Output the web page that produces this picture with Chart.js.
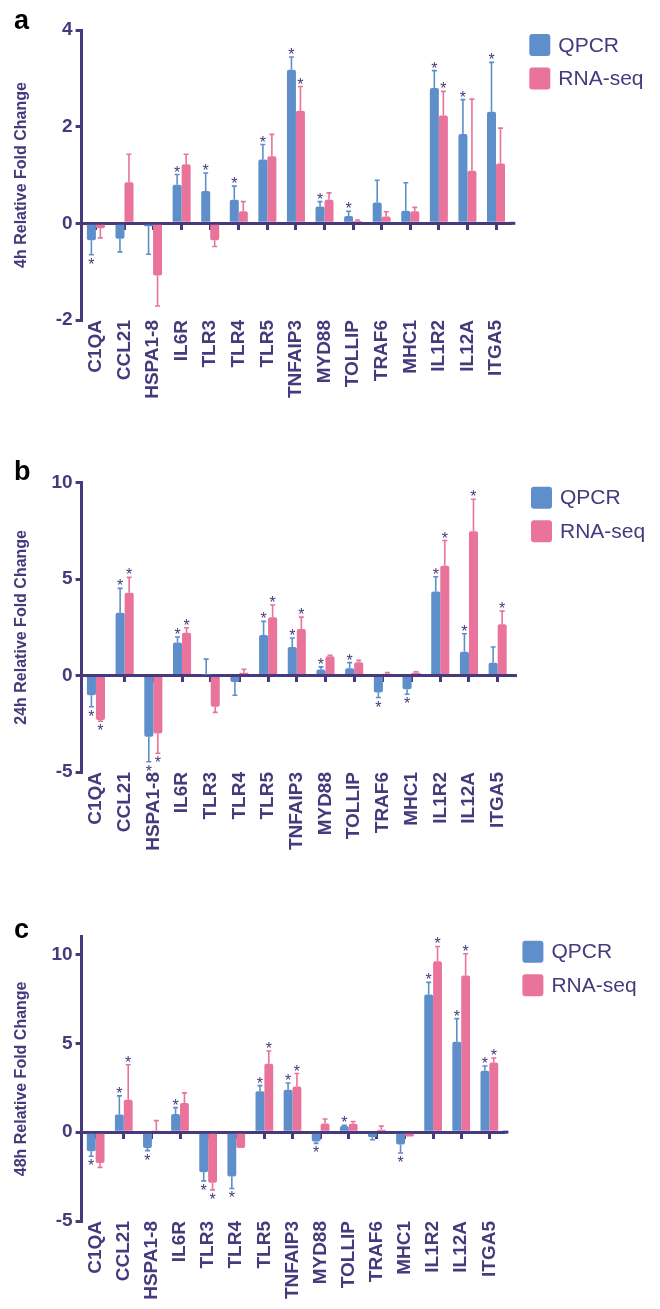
<!DOCTYPE html>
<html>
<head>
<meta charset="utf-8">
<script src="https://cdn.jsdelivr.net/npm/chart.js@4.4.0/dist/chart.umd.min.js"></script>
<style>
  body { margin: 0; background: #fff; }
  #page { position: relative; width: 660px; height: 1309px; overflow: hidden; background: #fff; }
  canvas { position: absolute; left: 0; }
</style>
</head>
<body>
<div id="page">
  <canvas id="chartA" width="660" height="420" style="top:0px"></canvas>
  <canvas id="chartB" width="660" height="450" style="top:430px"></canvas>
  <canvas id="chartC" width="660" height="429" style="top:880px"></canvas>
</div>
<script>
"use strict";

// genes on the x axis
const genes = ['C1QA', 'CCL21', 'HSPA1-8', 'IL6R', 'TLR3', 'TLR4', 'TLR5', 'TNFAIP3',
               'MYD88', 'TOLLIP', 'TRAF6', 'MHC1', 'IL1R2', 'IL12A', 'ITGA5'];
const seriesNames = ['QPCR', 'RNA-seq'];

// 4h
const qpcr4h    = [-0.35, -0.32, -0.06, 0.80, 0.67, 0.49, 1.32, 3.18, 0.35, 0.15, 0.43, 0.26, 2.80, 1.85, 2.31];
const qpcr4hErr = [0.30, 0.27, 0.58, 0.21, 0.37, 0.28, 0.31, 0.26, 0.10, 0.10, 0.46, 0.58, 0.36, 0.71, 1.02];
const qpcr4hSig = [1, 0, 0, 1, 1, 1, 1, 1, 1, 1, 0, 0, 1, 1, 1];
const rna4h     = [-0.10, 0.85, -1.08, 1.22, -0.35, 0.25, 1.39, 2.33, 0.49, 0.05, 0.14, 0.25, 2.23, 1.09, 1.24];
const rna4hErr  = [0.20, 0.58, 0.63, 0.21, 0.13, 0.20, 0.45, 0.50, 0.14, 0.02, 0.10, 0.08, 0.50, 1.48, 0.73];
const rna4hSig  = [0, 0, 0, 0, 0, 0, 0, 1, 0, 0, 0, 0, 1, 0, 0];
const ticks4h   = [-2, 0, 2, 4];

// 24h
const qpcr24h    = [-1.02, 3.26, -3.17, 1.72, 0.05, -0.34, 2.10, 1.48, 0.31, 0.38, -0.88, -0.71, 4.36, 1.24, 0.67];
const qpcr24hErr = [0.60, 1.26, 1.30, 0.28, 0.80, 0.68, 0.71, 0.47, 0.14, 0.29, 0.26, 0.26, 0.76, 0.93, 0.81];
const qpcr24hSig = [1, 1, 1, 1, 0, 0, 1, 1, 1, 1, 1, 1, 1, 1, 0];
const rna24h     = [-2.31, 4.29, -3.00, 2.22, -1.62, 0.15, 3.02, 2.41, 1.00, 0.69, 0.10, 0.15, 5.69, 7.48, 2.66];
const rna24hErr  = [0.06, 0.80, 1.03, 0.26, 0.29, 0.18, 0.64, 0.62, 0.05, 0.10, 0.05, 0.05, 1.31, 1.66, 0.68];
const rna24hSig  = [1, 1, 1, 1, 0, 0, 1, 1, 0, 0, 0, 0, 1, 1, 1];
const ticks24h   = [-5, 0, 5, 10];

// 48h
const qpcr48h    = [-1.08, 1.00, -0.89, 1.02, -2.26, -2.49, 2.30, 2.38, -0.53, 0.34, -0.28, -0.70, 7.75, 5.09, 3.45];
const qpcr48hErr = [0.28, 1.04, 0.15, 0.36, 0.48, 0.68, 0.32, 0.39, 0.10, 0.05, 0.15, 0.47, 0.68, 1.30, 0.27];
const qpcr48hSig = [1, 1, 1, 1, 1, 1, 1, 1, 1, 1, 0, 1, 1, 1, 1];
const rna48h     = [-1.74, 1.83, 0.10, 1.64, -2.85, -0.89, 3.85, 2.57, 0.49, 0.47, 0.13, -0.25, 9.62, 8.81, 3.92];
const rna48hErr  = [0.24, 1.96, 0.55, 0.57, 0.40, 0.00, 0.72, 0.73, 0.25, 0.13, 0.21, 0.00, 0.83, 1.23, 0.25];
const rna48hSig  = [0, 1, 0, 0, 1, 0, 1, 1, 0, 0, 0, 0, 1, 1, 1];
const ticks48h   = [-5, 0, 5, 10];

const PURPLE = '#46397c';
const BLUE = '#5e8fca';
const PINK = '#e9739a';
const FONT = '"Liberation Sans", Arial, Helvetica, sans-serif';

// Error bars + asterisks
const errorBars = {
    id: 'errorBars',
    afterDatasetsDraw(chart) {
        const ctx = chart.ctx;
        const yScale = chart.scales.y;
        chart.data.datasets.forEach((ds, i) => {
            const meta = chart.getDatasetMeta(i);
            meta.data.forEach((bar, j) => {
                const v = ds.data[j];
                const e = ds.errors[j];
                const dir = v < 0 ? -1 : 1;
                const yBar = yScale.getPixelForValue(v);
                const yEnd = yScale.getPixelForValue(v + dir * e);
                ctx.save();
                ctx.strokeStyle = ds.backgroundColor;
                ctx.lineWidth = 1.6;
                if (e > 0) {
                    ctx.beginPath();
                    ctx.moveTo(bar.x, yBar);
                    ctx.lineTo(bar.x, yEnd);
                    ctx.moveTo(bar.x - 2.5, yEnd);
                    ctx.lineTo(bar.x + 2.5, yEnd);
                    ctx.stroke();
                }
                if (ds.sig[j]) {
                    ctx.fillStyle = PURPLE;
                    ctx.font = '16px ' + FONT;
                    ctx.textAlign = 'center';
                    ctx.textBaseline = 'alphabetic';
                    const by = dir > 0 ? yEnd + 3 : yEnd + 15;
                    ctx.fillText('*', bar.x, by);
                }
                ctx.restore();
            });
        });
    }
};

// Legend, panel letter, little overhang of the zero line
const panelDecor = {
    id: 'panelDecor',
    afterDraw(chart, args, opts) {
        const ctx = chart.ctx;
        const area = chart.chartArea;
        const y0 = chart.scales.y.getPixelForValue(0);
        ctx.save();
        ctx.strokeStyle = PURPLE;
        ctx.lineWidth = 3;
        ctx.beginPath();
        ctx.moveTo(area.right - 1, y0);
        ctx.lineTo(area.right + 5, y0);
        ctx.stroke();

        chart.data.datasets.forEach((ds, i) => {
            const x = area.right + 19;
            const y = area.top + 4 + i * 33.5;
            ctx.fillStyle = ds.backgroundColor;
            ctx.beginPath();
            ctx.roundRect(x, y, 21, 22, 3);
            ctx.fill();
            ctx.fillStyle = PURPLE;
            ctx.font = '21px ' + FONT;
            ctx.textAlign = 'left';
            ctx.textBaseline = 'middle';
            ctx.fillText(ds.label, x + 29, y + 12);
        });
        ctx.fillStyle = '#000';
        ctx.font = 'bold 27px ' + FONT;
        ctx.textAlign = 'left';
        ctx.textBaseline = 'alphabetic';
        ctx.fillText(opts.letter, 14, opts.letterY);
        ctx.restore();
    }
};

function makePanel(cfg) {
    return new Chart(document.getElementById(cfg.id), {
        type: 'bar',
        data: {
            labels: genes,
            datasets: [
                { label: seriesNames[0], data: cfg.qpcr, errors: cfg.qpcrErr, sig: cfg.qpcrSig,
                  backgroundColor: BLUE, borderRadius: 2 },
                { label: seriesNames[1], data: cfg.rna, errors: cfg.rnaErr, sig: cfg.rnaSig,
                  backgroundColor: PINK, borderRadius: 2 }
            ]
        },
        options: {
            responsive: false,
            animation: false,
            barPercentage: 1,
            categoryPercentage: 0.63,
            layout: { padding: { left: 12, top: cfg.areaTop, right: 660 - cfg.areaRight, bottom: 0 } },
            plugins: {
                legend: { display: false },
                tooltip: { enabled: false },
                panelDecor: { letter: cfg.letter, letterY: cfg.letterY }
            },
            scales: {
                x: {
                    type: 'category',
                    position: 'bottom',
                    offset: true,
                    grid: { display: false, drawTicks: false },
                    border: { display: false },
                    ticks: {
                        autoSkip: false, minRotation: 90, maxRotation: 90, padding: 0,
                        color: PURPLE, font: { family: FONT, size: 19, weight: 'bold' }
                    },
                    afterFit: s => { s.height = cfg.xHeight; }
                },
                xZero: {
                    type: 'category',
                    axis: 'x',
                    position: { y: 0 },
                    offset: true,
                    grid: { drawOnChartArea: false, offset: false, tickLength: 5, lineWidth: 3, color: PURPLE },
                    border: { display: true, color: PURPLE, width: 3 },
                    ticks: { display: false }
                },
                y: {
                    type: 'linear',
                    min: cfg.min,
                    max: cfg.max,
                    ticks: {
                        padding: 3, color: PURPLE,
                        font: { family: FONT, size: 19, weight: 'bold' }
                    },
                    afterBuildTicks: s => { s.ticks = cfg.ticks.map(v => ({ value: v })); },
                    grid: { drawOnChartArea: false, tickLength: 6, lineWidth: 3, color: PURPLE },
                    border: { color: PURPLE, width: 3 },
                    title: {
                        display: true, text: cfg.title, color: PURPLE, padding: 0,
                        font: { family: FONT, size: 16, weight: 'bold' }
                    },
                    afterFit: s => { s.width = 69.6; }
                }
            }
        },
        plugins: [errorBars, panelDecor]
    });
}

makePanel({ id: 'chartA', letter: 'a', letterY: 28.5, title: '4h Relative Fold Change',
    min: -2, max: 4, ticks: ticks4h, areaTop: 30, areaRight: 510.3, xHeight: 100,
    qpcr: qpcr4h, qpcrErr: qpcr4hErr, qpcrSig: qpcr4hSig, rna: rna4h, rnaErr: rna4hErr, rnaSig: rna4hSig });

makePanel({ id: 'chartB', letter: 'b', letterY: 50, title: '24h Relative Fold Change',
    min: -5, max: 10, ticks: ticks24h, areaTop: 52.7, areaRight: 512, xHeight: 108,
    qpcr: qpcr24h, qpcrErr: qpcr24hErr, qpcrSig: qpcr24hSig, rna: rna24h, rnaErr: rna24hErr, rnaSig: rna24hSig });

makePanel({ id: 'chartC', letter: 'c', letterY: 58, title: '48h Relative Fold Change',
    min: -5, max: 11, ticks: ticks48h, areaTop: 56.7, areaRight: 503.4, xHeight: 88,
    qpcr: qpcr48h, qpcrErr: qpcr48hErr, qpcrSig: qpcr48hSig, rna: rna48h, rnaErr: rna48hErr, rnaSig: rna48hSig });
</script>
</body>
</html>
